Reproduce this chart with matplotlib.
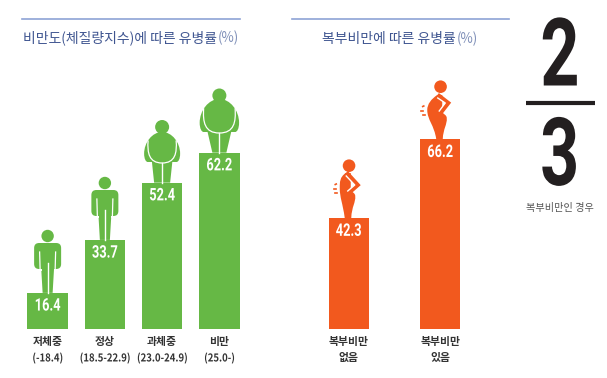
import matplotlib
matplotlib.use('Agg')
import matplotlib.pyplot as plt
from matplotlib.patches import Circle, Polygon, FancyBboxPatch, PathPatch
from matplotlib.path import Path
from matplotlib.patheffects import AbstractPathEffect
from matplotlib.transforms import Affine2D

plt.rcParams['font.family'] = ['Noto Sans CJK KR', 'DejaVu Sans']

GREEN = '#66b845'
ORANGE = '#f2591e'
NAVY = '#3f5590'
NUM_FONT = ['Roboto', 'DejaVu Sans']

bmi_labels = ['저체중', '정상', '과체중', '비만']
bmi_ranges = ['(-18.4)', '(18.5-22.9)', '(23.0-24.9)', '(25.0-)']
bmi_values = [16.4, 33.7, 52.4, 62.2]
waist_labels = ['복부비만', '복부비만']
waist_states = ['없음', '있음']
waist_values = [42.3, 66.2]

W, H = 607, 378
fig = plt.figure(figsize=(W / 100, H / 100), dpi=100)


class Narrow(AbstractPathEffect):
    # squeezes the glyphs sideways, no condensed font is installed
    def __init__(self, sx):
        super().__init__()
        self.sx = sx

    def draw_path(self, renderer, gc, tpath, affine, rgbFace=None):
        ext = tpath.get_extents()
        mid = (ext.x0 + ext.x1) / 2
        squeeze = Affine2D().translate(-mid, 0).scale(self.sx, 1).translate(mid, 0)
        renderer.draw_path(gc, tpath, squeeze + affine, rgbFace)


def make_ax(left, right, top, bottom, ymin, ymax):
    ax = fig.add_axes([left / W, 1 - bottom / H, (right - left) / W, (bottom - top) / H])
    ax.set_ylim(ymin, ymax)
    ax.axis('off')
    return ax


def bars(ax, values, line1, line2, color, width, narrow_second):
    x = range(len(values))
    ax.bar(x, values, width=width, color=color)
    ax.set_xlim(-0.5, len(values) - 0.5)
    low = ax.get_ylim()[0]
    for i, v in enumerate(values):
        t = ax.annotate('%.1f' % v, (i, v), xytext=(0, -9.5), textcoords='offset points', ha='center', va='center',
                        color='white', fontsize=12.5, fontweight='bold', family=NUM_FONT)
        t.set_path_effects([Narrow(0.74)])
        ax.annotate(line1[i], (i, low), xytext=(0, -9.5), textcoords='offset points', ha='center', va='center',
                    color='#333333', fontsize=7.8, fontweight='bold')
        t2 = ax.annotate(line2[i], (i, low), xytext=(0, -21), textcoords='offset points', ha='center', va='center',
                         color='#333333', fontsize=7.8, fontweight='bold')
        if narrow_second:
            t2.set_path_effects([Narrow(0.88)])


# y range picked so bar tops land where the original has them
ax1 = make_ax(19, 248, 70, 329, 4.6, 89.2)
bars(ax1, bmi_values, bmi_labels, bmi_ranges, GREEN, 0.705, True)
ax2 = make_ax(303, 486, 70, 329, 8.7, 87.2)
bars(ax2, waist_values, waist_labels, waist_states, ORANGE, 0.435, False)

# overlay in pixel coordinates for rules, titles and pictograms
ov = fig.add_axes([0, 0, 1, 1])
ov.set_xlim(0, W)
ov.set_ylim(H, 0)
ov.axis('off')
ov.patch.set_alpha(0)


def anchor(ax, i, v):
    px = ax.transData.transform((i, v))
    return px[0], H - px[1]


def slim_person(cx, base, head_y, shoulder, arm_end):
    ov.add_patch(Circle((cx, head_y), 6.2, color=GREEN, lw=0))
    ov.add_patch(FancyBboxPatch((cx - 13.5, shoulder), 27, arm_end - shoulder,
                                boxstyle='round,pad=0,rounding_size=5', color=GREEN, lw=0))
    ov.add_patch(Polygon([(cx - 6.5, arm_end - 2), (cx + 6.5, arm_end - 2), (cx + 5, base), (cx - 5, base)],
                         color=GREEN, lw=0))
    for s in (-1, 1):
        ov.plot([cx + s * 8, cx + s * 7.5], [shoulder + 9, arm_end + 1], color='white', lw=0.9)
        ov.plot([cx + s * 7, cx + s * 14], [arm_end + 1, arm_end + 1], color='white', lw=1.4)
    ov.plot([cx, cx], [arm_end - 6, base], color='white', lw=1.0)


def fat_person(cx, base, head_y, w, top, bottom, hip, foot):
    h = bottom - top
    ov.add_patch(Circle((cx, head_y), 7, color=GREEN, lw=0))
    verts = [(0, top), (w * 0.55, top), (w, top + h * 0.35), (w, top + h * 0.72),
             (w, top + h * 0.9), (w * 0.9, bottom), (w * 0.8, bottom), (-w * 0.8, bottom),
             (-w * 0.9, bottom), (-w, top + h * 0.9), (-w, top + h * 0.72),
             (-w, top + h * 0.35), (-w * 0.55, top), (0, top)]
    codes = [Path.MOVETO] + [Path.CURVE4] * 6 + [Path.LINETO] + [Path.CURVE4] * 6
    ov.add_patch(PathPatch(Path([(cx + a, b) for a, b in verts], codes), color=GREEN, lw=0))
    ov.add_patch(Polygon([(cx - hip, bottom - 3), (cx + hip, bottom - 3), (cx + foot, base), (cx - foot, base)],
                         color=GREEN, lw=0))
    # white line round the belly, splitting arms and legs from it
    i = w - 4
    line = [(-i, top + h * 0.28), (-i - 1, top + h * 0.7), (-i + 1, bottom + 1), (0, bottom + 1),
            (i - 1, bottom + 1), (i + 1, top + h * 0.7), (i, top + h * 0.28)]
    ov.add_patch(PathPatch(Path([(cx + a, b) for a, b in line], [Path.MOVETO] + [Path.CURVE4] * 6),
                           fill=False, edgecolor='white', lw=0.9))
    ov.plot([cx, cx], [bottom + 1, base], color='white', lw=1.0)


def side_person(cx, base, head_y, top, belly, elbow_x, elbow_y, hand_y):
    ht = base - top
    ov.add_patch(Circle((cx + 0.3, head_y), 6.3, color=ORANGE, lw=0))
    verts = [(-3, 0), (-9, 4), (belly, 9), (belly, 15), (belly, 25), (-6, 30), (-4, ht), (2.5, ht),
             (3, 33), (7, 30), (6.5, 23), (6.5, 20), (3, 19), (2, 17), (2, 0), (-3, 0)]
    codes = [Path.MOVETO] + [Path.CURVE4] * 6 + [Path.LINETO] + [Path.CURVE4] * 6 + [Path.LINETO, Path.CLOSEPOLY]
    ov.add_patch(PathPatch(Path([(cx + a, top + b) for a, b in verts], codes), color=ORANGE, lw=0))
    ov.plot([cx - 1, cx + elbow_x, cx + 1], [top + 1, top + elbow_y, top + hand_y], color=ORANGE, lw=3,
            solid_joinstyle='miter')
    ov.plot([cx - 2.5, cx + elbow_x - 3, cx - 1], [top + 3, top + elbow_y, top + hand_y - 1], color='white', lw=1.0)
    for dx, dy, ex, ey in [(-17.5, 11.5, -16.5, 11), (-19, 16, -17, 16), (-17.5, 19.5, -15.5, 19.5)]:
        ov.plot([cx + dx + belly + 13, cx + ex + belly + 13], [top + dy, top + ey], color=ORANGE, lw=1.2)


x0, t0 = anchor(ax1, 0, bmi_values[0])
slim_person(x0, t0, 236, 243, 269)
x1, t1 = anchor(ax1, 1, bmi_values[1])
slim_person(x1, t1, 183, 190, 216)
x2, t2 = anchor(ax1, 2, bmi_values[2])
fat_person(x2, t2, 127, 18, 132, 162, 10.5, 8)
x3, t3 = anchor(ax1, 3, bmi_values[3])
fat_person(x3, t3, 95.5, 19.7, 99, 132, 12.5, 7)

x4, t4 = anchor(ax2, 0, waist_values[0])
side_person(x4, t4, 165.7, 173, -9, 9, 12, 19)
x5, t5 = anchor(ax2, 1, waist_values[1])
side_person(x5, t5, 86.7, 95, -13, 8, 8, 17)

ov.plot([22, 240], [19, 19], color='#8ea3d6', lw=1.2)
ov.plot([292, 509], [19, 19], color='#8ea3d6', lw=1.2)
ov.text(23, 37.5, '비만도(체질량지수)에 따른 유병률', ha='left', va='center', color=NAVY, fontsize=10, fontweight='medium')
ov.text(218, 37.5, '(%)', ha='left', va='center', color='#7f8fb8', fontsize=9.6)
ov.text(322, 38.5, '복부비만에 따른 유병률', ha='left', va='center', color=NAVY, fontsize=10, fontweight='medium')
ov.text(457, 38.5, '(%)', ha='left', va='center', color='#7f8fb8', fontsize=9.6)

two = ov.text(560, 85.5, '2', ha='center', va='baseline', color='#231f20', fontsize=68, fontweight='bold', family=NUM_FONT)
three = ov.text(560, 185, '3', ha='center', va='baseline', color='#231f20', fontsize=68, fontweight='bold', family=NUM_FONT)
two.set_path_effects([Narrow(0.72)])
three.set_path_effects([Narrow(0.72)])
ov.plot([526, 595], [103, 103], color='#231f20', lw=3, solid_capstyle='butt')
ov.text(560, 208, '복부비만인 경우', ha='center', va='center', color='#555555', fontsize=7.3)

fig.savefig('out.png', dpi=100)
